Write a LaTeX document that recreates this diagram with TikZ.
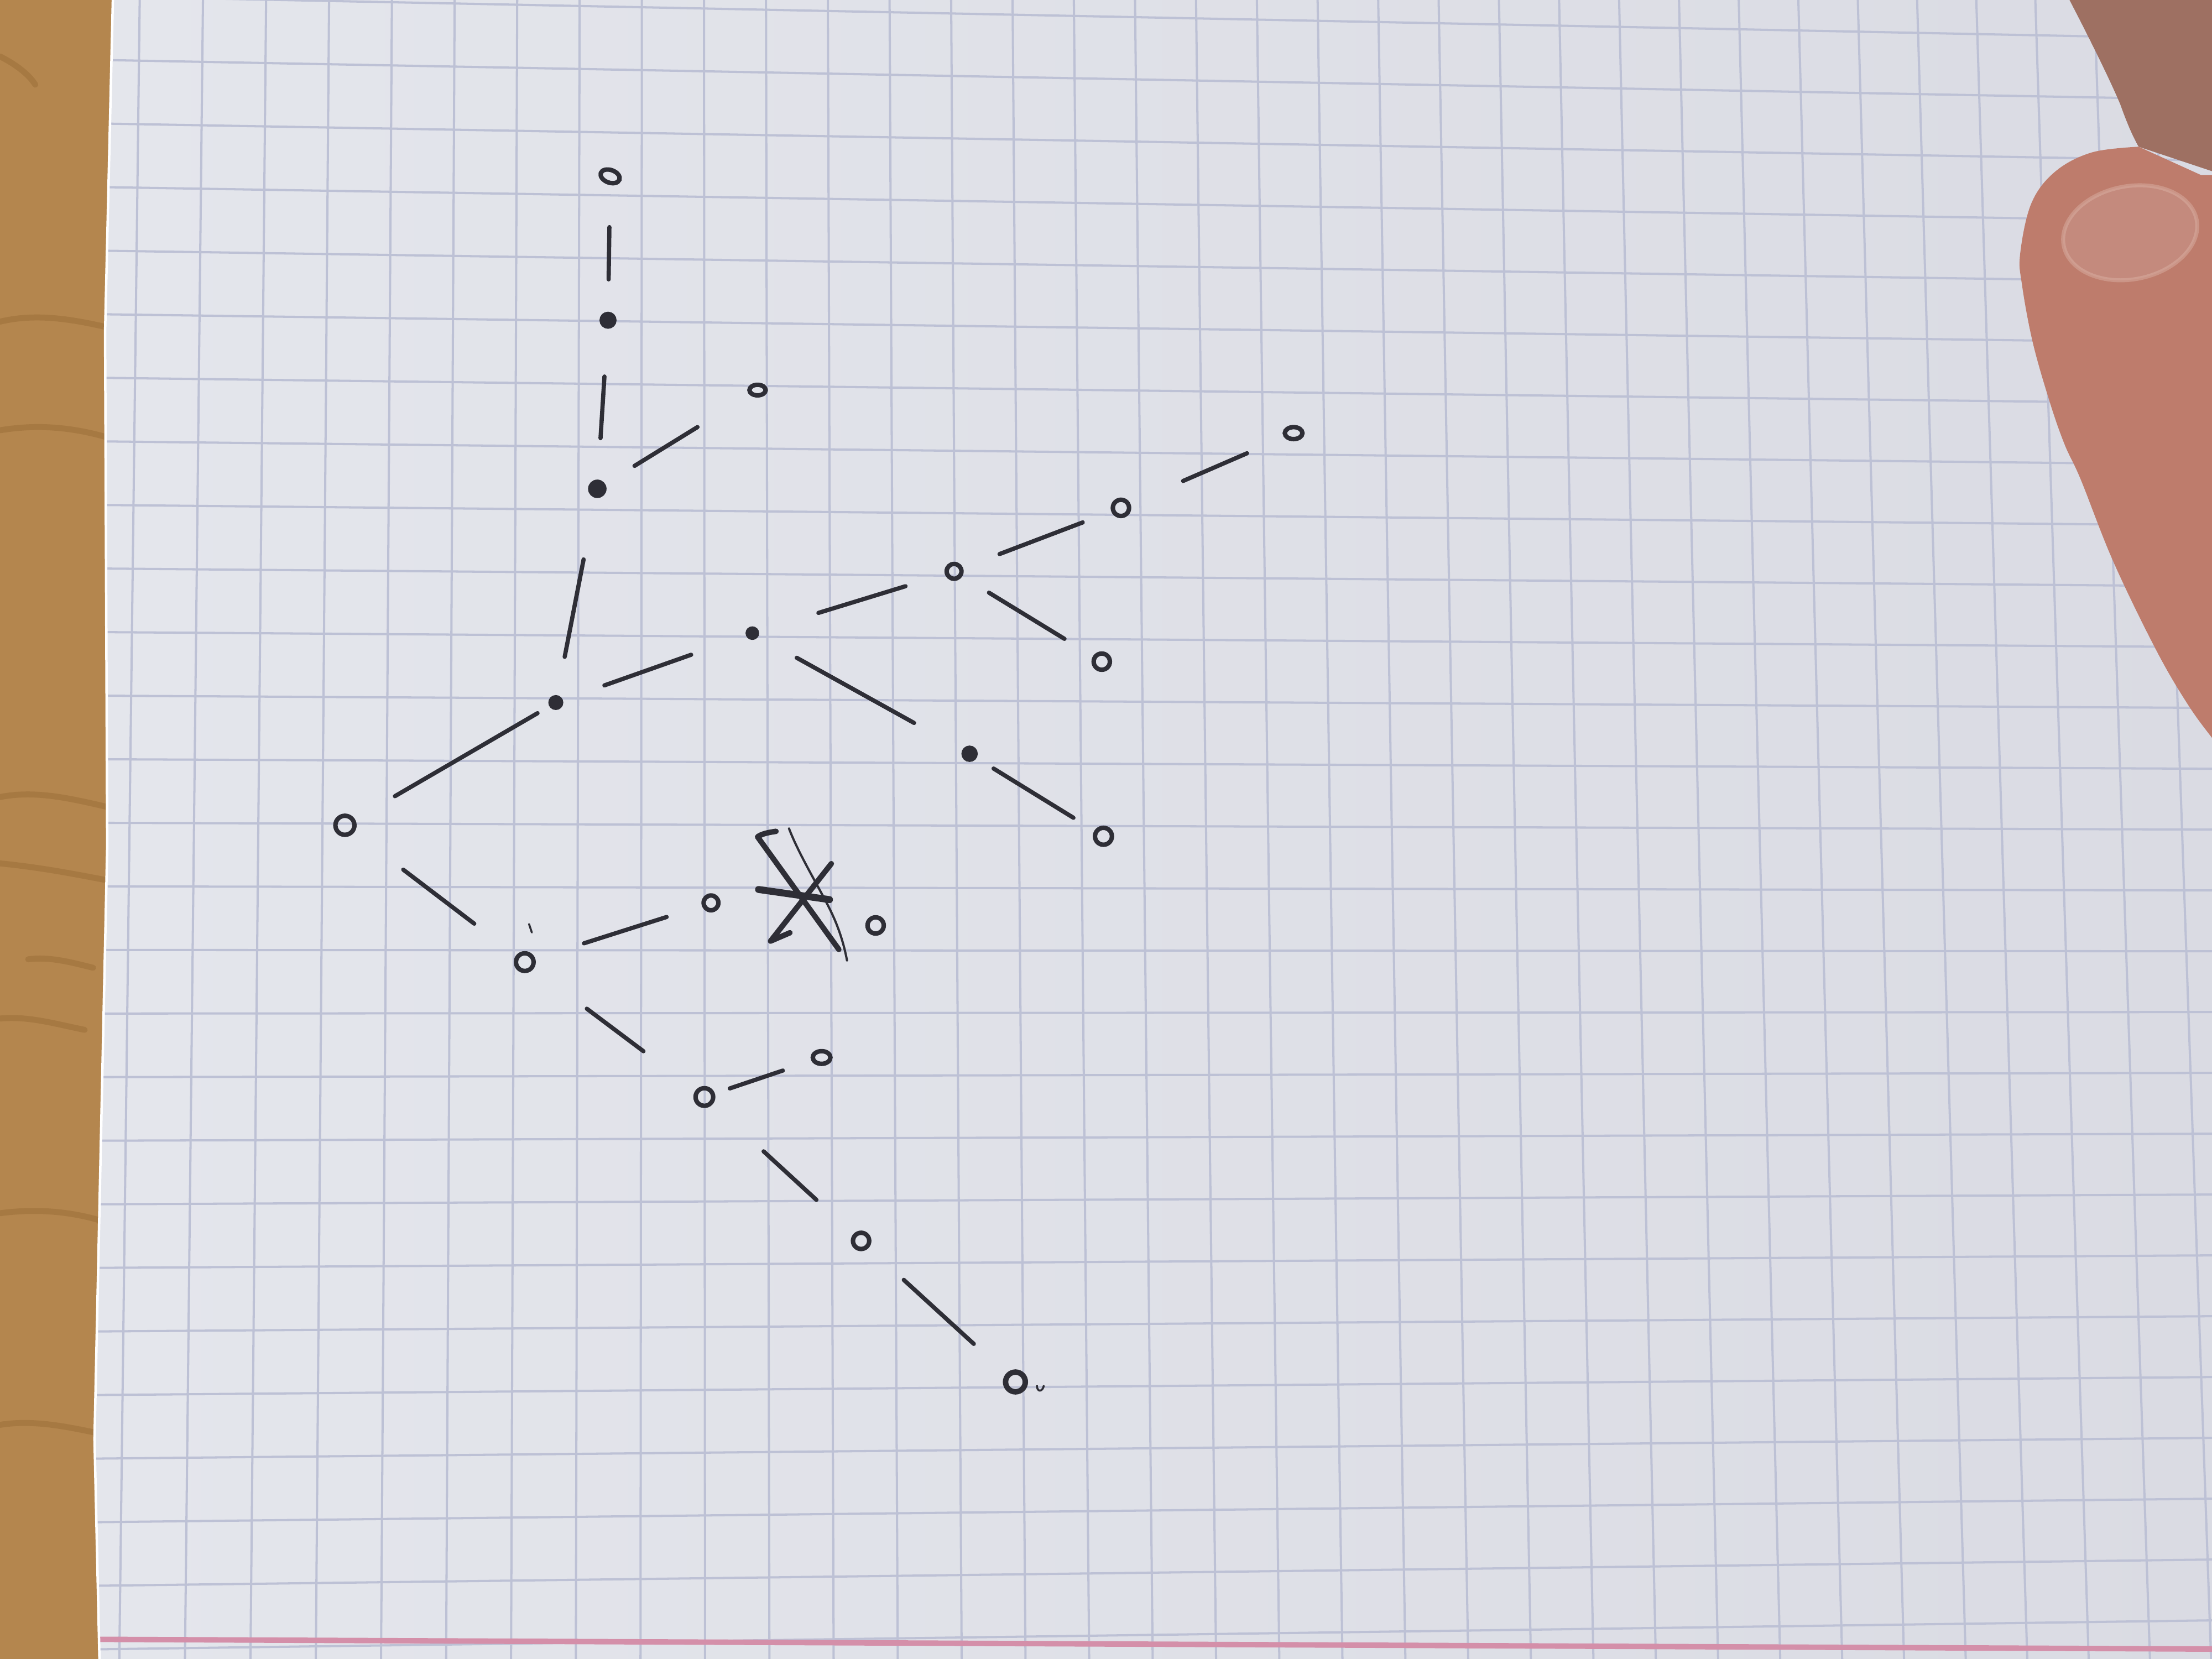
\documentclass[tikz,border=0pt]{standalone}
\usetikzlibrary{shapes.geometric}
\definecolor{wood}{HTML}{B4864E}
\definecolor{wooddark}{HTML}{8E612C}
\definecolor{paperL}{HTML}{E4E6EC}
\definecolor{paperR}{HTML}{DADBE3}
\definecolor{gridc}{HTML}{BDC1D5}
\definecolor{pinkc}{HTML}{D48FA9}
\definecolor{pen}{HTML}{2E2E36}
\definecolor{skinD}{HTML}{9E7062}
\definecolor{skin}{HTML}{BE7C6C}
\definecolor{nail}{HTML}{C48A7D}
\definecolor{nailrim}{HTML}{DDB5A8}
\begin{document}
\begin{tikzpicture}[x=0.1mm,y=-0.1mm,
  ring/.style={circle,draw=pen,line width=0.9pt,inner sep=0pt,minimum size=1.15mm},
  oval/.style={ellipse,draw=pen,line width=0.9pt,inner sep=0pt,minimum width=1.4mm,minimum height=0.9mm},
  blob/.style={circle,draw=pen,fill=pen,line width=0.6pt,inner sep=0pt,minimum size=1mm},
  edge/.style={draw=pen,line width=0.85pt,line cap=round},
  gridline/.style={draw=gridc,line width=0.45pt},
  grain/.style={draw=wooddark,opacity=0.35,line width=1.2pt,line cap=round},
  xstroke/.style={draw=pen,line width=1.1pt,line cap=round,line join=round}]
\useasboundingbox (0,0) rectangle (1568,1176);
% table
\fill[wood] (-10,-10) rectangle (200,1190);
\draw[grain] (0,40) .. controls (10,45) and (20,52) .. (25,60);
\draw[grain] (0,228) .. controls (25,222) and (50,226) .. (76,232);
\draw[grain] (0,305) .. controls (30,300) and (55,304) .. (76,310);
\draw[grain] (0,565) .. controls (25,560) and (50,566) .. (76,572);
\draw[grain] (0,612) .. controls (30,615) and (55,620) .. (76,624);
\draw[grain] (20,680) .. controls (35,678) and (50,682) .. (66,686);
\draw[grain] (0,722) .. controls (20,720) and (40,726) .. (60,730);
\draw[grain] (0,860) .. controls (30,856) and (55,860) .. (74,866);
\draw[grain] (0,1010) .. controls (25,1006) and (50,1012) .. (70,1016);
% paper
\shade[left color=paperL,right color=paperR] (80,-10) -- (80,0) -- (74.5,235) -- (76,600) -- (67,1020) -- (70.5,1190) -- (1580,1190) -- (1580,-10) -- cycle;
\begin{scope}
  \clip (80,-10) -- (80,0) -- (74.5,235) -- (76,600) -- (67,1020) -- (70.5,1190) -- (1580,1190) -- (1580,-10) -- cycle;
  \foreach \i in {0,...,34}{
    \pgfmathsetmacro\xm{93+45.6*\i-0.05*\i*\i}
    \pgfmathsetmacro\sl{-0.0123+0.00143*\i}
    \pgfmathsetmacro\xt{\xm-\sl*491}
    \pgfmathsetmacro\xb{\xm+\sl*685}
    \draw[gridline] (\xt,0) -- (\xb,1176);
  }
  \foreach \j in {0,...,26}{
    \pgfmathsetmacro\yl{-2.2+45.04*\j}
    \pgfmathsetmacro\yr{24.7+43.3*\j}
    \pgfmathsetmacro\m{(\yr-\yl)/1330}
    \pgfmathsetmacro\ya{\yl-30*\m}
    \pgfmathsetmacro\yb{\yr+138*\m}
    \draw[gridline] (60,\ya) -- (1568,\yb);
  }
  \draw[pinkc,line width=1.1pt] (60,1162) -- (1580,1169);
\end{scope}
\draw[white,line width=0.5pt] (80,0) -- (74.5,235) -- (76,600) -- (67,1020) -- (70.5,1176);
% thumb
\fill[skinD] (1455,-20) -- (1467,0) .. controls (1480,25) and (1495,55) .. (1503,74) .. controls (1508,88) and (1512,97) .. (1516,104) -- (1600,132) -- (1600,-20) -- cycle;
\fill[skin] plot[smooth,tension=0.6] coordinates {(1516,104) (1483,108) (1457,121.5) (1440,144) (1432,180) (1433.4,202.5) (1441,243) (1453,285) (1463.5,315) (1475,340) (1498,398) (1528,460) (1550,498) (1568,523) (1590,550)} -- (1620,550) -- (1620,124) -- (1560,124) -- cycle;
\fill[nail,rotate around={11:(1510,165)}] (1510,165) ellipse [x radius=48, y radius=33];
\draw[nailrim,opacity=0.45,line width=0.8pt,rotate around={11:(1510,165)}] (1510,165) ellipse [x radius=48, y radius=33];
% graph nodes
\node[oval,rotate=-20] (n1) at (432.5,125) {};
\node[blob] (n2) at (431,227) {};
\node[oval,minimum width=1.15mm,minimum height=0.75mm] (n3) at (537,276.5) {};
\node[blob,minimum size=1.1mm] (n4) at (423.4,346.5) {};
\node[blob,minimum size=0.75mm] (n5) at (533.3,448.8) {};
\node[ring,minimum size=1.05mm] (n6) at (676.3,405) {};
\node[ring] (n7) at (794.6,360) {};
\node[oval,minimum width=1.25mm,minimum height=0.85mm] (n8) at (917,307) {};
\node[ring] (n9) at (781,469) {};
\node[blob,minimum size=0.95mm] (n10) at (687.3,534.3) {};
\node[ring,minimum size=1.2mm] (n11) at (782.2,592.8) {};
\node[blob,minimum size=0.85mm] (n12) at (394,498) {};
\node[ring,minimum size=1.35mm] (n13) at (244.5,585) {};
\node[ring,minimum size=1.25mm] (n14) at (372,682) {};
\node[ring,minimum size=1.05mm] (n15) at (504,640) {};
\node[ring] (n16) at (620.7,656) {};
\node[ring,minimum size=1.25mm] (n18) at (499.3,777.6) {};
\node[oval,minimum width=1.25mm,minimum height=0.9mm] (n19) at (582.4,749.6) {};
\node[ring] (n20) at (610.4,879.6) {};
\node[ring,minimum size=1.4mm,line width=1.1pt] (n21) at (719.8,979.6) {};
% connectors
\draw[edge,shorten <=3.6mm,shorten >=2.9mm] (n1.center) -- (n2.center);
\draw[edge,shorten <=4.0mm,shorten >=3.6mm] (n2.center) -- (n4.center);
\draw[edge,shorten <=3.1mm,shorten >=5.0mm] (n4.center) -- (n3.center);
\draw[edge,shorten <=5.1mm,shorten >=3.3mm] (n4.center) -- (n12.center);
\draw[edge,shorten <=3.65mm,shorten >=4.6mm] (n12.center) -- (n5.center);
\draw[edge,shorten <=4.9mm,shorten >=3.6mm] (n5.center) -- (n6.center);
\draw[edge,shorten <=3.45mm,shorten >=2.9mm] (n6.center) -- (n7.center);
\draw[edge,shorten <=4.8mm,shorten >=3.6mm] (n7.center) -- (n8.center);
\draw[edge,shorten <=2.9mm,shorten >=3.1mm] (n6.center) -- (n9.center);
\draw[edge,shorten <=3.6mm,shorten >=4.5mm] (n5.center) -- (n10.center);
\draw[edge,shorten <=2.0mm,shorten >=2.5mm] (n10.center) -- (n11.center);
\draw[edge,shorten <=1.5mm,shorten >=4.1mm] (n12.center) -- (n13.center);
\draw[edge,shorten <=5.2mm,shorten >=4.5mm] (n13.center) -- (n14.center);
\draw[edge,shorten <=4.4mm,shorten >=3.3mm] (n14.center) -- (n15.center);
\draw[edge,shorten <=5.5mm,shorten >=5.4mm] (n14.center) -- (n18.center);
\draw[edge,shorten <=1.9mm,shorten >=2.9mm] (n18.center) -- (n19.center);
\draw[edge,shorten <=5.7mm,shorten >=4.3mm] (n18.center) -- (n20.center);
\draw[edge,shorten <=4.1mm,shorten >=4.0mm] (n20.center) -- (n21.center);
% crossed-out mark
\draw[xstroke] (550.1,589.3) .. controls (545,590) and (540,591) .. (537,593.2) -- (594.6,673);
\draw[draw=pen,line width=0.45pt,line cap=round] (559.3,587.3) .. controls (566,605) and (580,628) .. (588,644) .. controls (594,656) and (598,668) .. (600.4,680.8);
\draw[xstroke] (589.3,612.2) -- (546.2,667.1) -- (559.9,661.2);
\draw[xstroke,line width=1.4pt] (537.7,630.5) -- (588,637.7);
% small stray marks
\draw[draw=pen,line width=0.4pt] (735,982) .. controls (735,987) and (739,987) .. (740,982);
\draw[draw=pen,line width=0.4pt,line cap=round] (375,655) -- (377,661);
\end{tikzpicture}
\end{document}
